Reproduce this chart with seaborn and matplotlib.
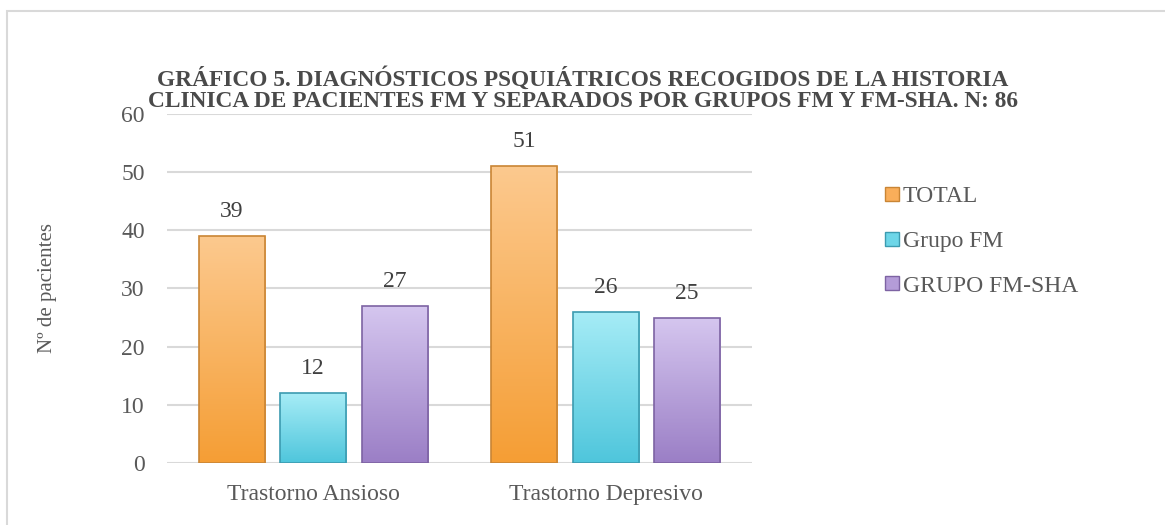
import numpy as np
import pandas as pd
import seaborn as sns
import matplotlib.pyplot as plt
from matplotlib.patches import Rectangle
from matplotlib.lines import Line2D
from matplotlib.colors import LinearSegmentedColormap

# data
categorias = ['Trastorno Ansioso', 'Trastorno Depresivo']
grupos = ['TOTAL', 'Grupo FM', 'GRUPO FM-SHA']
total = [39, 51]
grupo_fm = [12, 26]
grupo_fm_sha = [27, 25]

df = pd.DataFrame({
    'diag': categorias * 3,
    'grupo': [grupos[0]] * 2 + [grupos[1]] * 2 + [grupos[2]] * 2,
    'n': total + grupo_fm + grupo_fm_sha,
})

colores = ['#F9AE5A', '#6DD6E8', '#B49CD8']
top_c = ['#FCC98E', '#A6ECF6', '#D5C6EF']
bot_c = ['#F59E35', '#4FC6DC', '#9B7FC6']
bordes = ['#C98535', '#3C9BB0', '#7D63A3']

sns.set_theme(style='white')
plt.rcParams['font.family'] = ['Liberation Serif', 'DejaVu Serif']
gris = '#595959'

fig = plt.figure(figsize=(11.65, 5.25), dpi=100)
ax = fig.add_axes([0.1433, 0.1181, 0.5021, 0.6648])

sns.barplot(data=df, x='diag', y='n', hue='grupo', hue_order=grupos,
            palette=colores, width=0.836, gap=0.19, ax=ax, legend=False,
            edgecolor='none', saturation=1)

# gradient fill + border on each bar
for i, cont in enumerate(ax.containers):
    cmap = LinearSegmentedColormap.from_list('g', [bot_c[i], top_c[i]])
    for p in cont.patches:
        x0, y0 = p.get_x(), p.get_y()
        w, h = p.get_width(), p.get_height()
        p.set_facecolor('none')
        img = ax.imshow(np.linspace(0, 1, 100).reshape(-1, 1), cmap=cmap,
                        origin='lower', aspect='auto',
                        extent=[x0, x0 + w, y0, y0 + h], zorder=2)
        img.set_clip_path(p)
        ax.add_patch(Rectangle((x0, y0), w, h, fill=False, edgecolor=bordes[i],
                               linewidth=1.2, zorder=3))
    ax.bar_label(cont, padding=10, fontsize=17, color='#404040')

ax.set_xlim(-0.5, 1.5)
ax.set_ylim(0, 60)
ax.set_yticks(range(0, 61, 10))
ax.yaxis.grid(True, color='#D9D9D9', linewidth=1.5)
ax.set_axisbelow(True)
sns.despine(ax=ax, left=True, bottom=True)
ax.tick_params(axis='both', length=0, labelsize=17, labelcolor=gris)
ax.tick_params(axis='y', pad=16)
ax.tick_params(axis='x', pad=15)
ax.set_xlabel('')
ax.set_ylabel('Nº de pacientes', fontsize=15, color=gris, labelpad=46)

fig.text(0.5, 0.829, 'GRÁFICO 5. DIAGNÓSTICOS PSQUIÁTRICOS RECOGIDOS DE LA HISTORIA\n'
         'CLINICA DE PACIENTES FM Y SEPARADOS POR GRUPOS FM Y FM-SHA. N: 86',
         ha='center', va='center', fontsize=16.8, fontweight='bold', color='#4a4a4a',
         linespacing=1.0)

handles = [Line2D([], [], marker='s', linestyle='none', markersize=10,
                  markerfacecolor=colores[i], markeredgecolor=bordes[i])
           for i in range(3)]
fig.legend(handles, grupos, loc='upper left', bbox_to_anchor=(0.7486, 0.664),
           frameon=False, fontsize=17, labelcolor=gris, handletextpad=0.0,
           handlelength=0.9, labelspacing=0.98, borderaxespad=0)

fig.add_artist(Rectangle((7 / 1165, -0.1), 1.2, 1 - 11 / 525 + 0.1,
                         transform=fig.transFigure, fill=False,
                         edgecolor='#D9D9D9', linewidth=1.5))

fig.savefig('out.png', dpi=100)
